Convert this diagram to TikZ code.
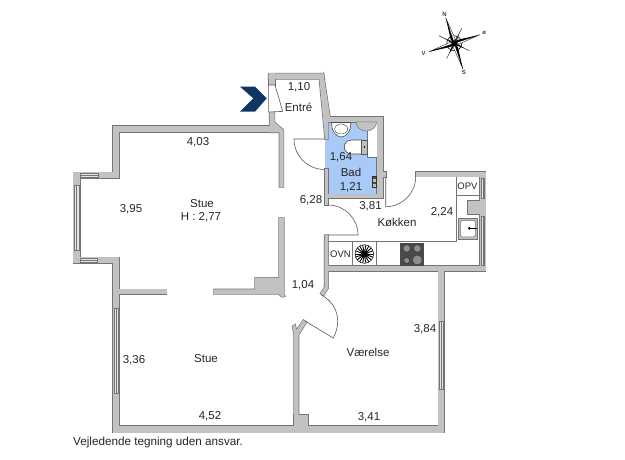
\documentclass[tikz,border=0pt]{standalone}
\usepackage{fontspec}
\setmainfont{Liberation Sans}
\definecolor{wallfill}{HTML}{C2C2C2}
\definecolor{walledge}{HTML}{747474}
\definecolor{badblue}{HTML}{A9C9F6}
\definecolor{navy}{HTML}{0F3560}
\definecolor{hobdark}{HTML}{4A4A4A}
\tikzset{
  x=1pt,y=-1pt,
  lbl/.style={font=\fontsize{11.5}{13}\selectfont,text=black!85,inner sep=0pt},
  smalllbl/.style={font=\fontsize{9.5}{11}\selectfont,text=black!85,inner sep=0pt},
  compasslbl/.style={font=\fontsize{6}{7}\selectfont\bfseries,text=black!75,inner sep=0pt},
  thinline/.style={draw=walledge,line width=0.7pt},
  doorline/.style={draw=black!65,line width=0.6pt},
  windowbox/.style={draw=walledge,line width=0.5pt,fill=white!55!wallfill},
  fixture/.style={draw=black!70,line width=0.6pt,fill=white},
}
\newcommand{\wallset}[1]{%
  \path[#1] (268.5,73.5)--(323.5,73.5)--(324.5,79)--(268.5,79)--cycle;
  \path[#1] (319.3,79)--(323.5,73.5)--(330,116.7)--(330,122)--(328,122)--(328,139)--(325,139)--cycle;
  \path[#1] (325,116.7)--(383,116.7)--(383,122)--(325,122)--cycle;
  \path[#1] (376.7,116.7)--(383,116.7)--(383,198.5)--(376.7,198.5)--cycle;
  \path[#1] (383,172)--(386,172)--(386,177)--(383,177)--cycle;
  \path[#1] (324.5,194.3)--(383,194.3)--(383,198.5)--(324.5,198.5)--cycle;
  \path[#1] (324.5,169)--(328.3,169)--(328.3,205)--(324.5,205)--cycle;
  \path[#1] (268.5,73.5)--(275,73.5)--(275,85)--(268.5,85)--cycle;
  \path[#1] (269.5,112)--(274.5,112)--(274.5,122)--(283.5,130)--(283.5,187)--(279.3,187)--(279.3,132.5)--(269.5,132.5)--cycle;
  \path[#1] (113,126)--(274.5,126)--(274.5,132.5)--(113,132.5)--cycle;
  \path[#1] (113,126)--(119.3,126)--(119.3,178.3)--(113,178.3)--cycle;
  \path[#1] (73.3,172.3)--(119.3,172.3)--(119.3,178.3)--(73.3,178.3)--cycle;
  \path[#1] (73.3,172.3)--(80,172.3)--(80,263.3)--(73.3,263.3)--cycle;
  \path[#1] (73.3,257.3)--(119.3,257.3)--(119.3,263.3)--(73.3,263.3)--cycle;
  \path[#1] (113,257.3)--(119.3,257.3)--(119.3,432.7)--(113,432.7)--cycle;
  \path[#1] (119,289.3)--(166.7,289.3)--(166.7,294)--(119,294)--cycle;
  \path[#1] (214,289.3)--(255,289.3)--(255,277.7)--(279,277.7)--(279,218)--(284,218)--(284,294)--(285,296)--(282,297)--(278.5,294)--(214,294)--cycle;
  \path[#1] (113,426)--(444.3,426)--(444.3,432.7)--(113,432.7)--cycle;
  \path[#1] (292.5,326.5)--(295,324.5)--(296.5,330)--(303.5,320)--(306.5,322)--(298.7,335)--(298.7,426)--(294,426)--(294,335)--cycle;
  \path[#1] (294,415)--(308.3,415)--(308.3,426)--(294,426)--cycle;
  \path[#1] (324.5,235)--(328.3,235)--(328.3,288)--(323.5,295.5)--(320.5,293.5)--(324.5,287)--cycle;
  \path[#1] (438.3,266)--(444.3,266)--(444.3,432.7)--(438.3,432.7)--cycle;
  \path[#1] (324.5,266)--(485.7,266)--(485.7,271)--(324.5,271)--cycle;
  \path[#1] (415.7,171.7)--(485.7,171.7)--(485.7,176.7)--(415.7,176.7)--cycle;
  \path[#1] (480,171.7)--(485.7,171.7)--(485.7,271)--(480,271)--cycle;
  \path[#1] (467.7,201)--(485.7,201)--(485.7,214)--(467.7,214)--cycle;
}
\begin{document}
\begin{tikzpicture}
\useasboundingbox (0,0) rectangle (625,460);
\fill[white] (0,0) rectangle (625,460);
% bathroom floor
\fill[badblue] (325,120)--(378,120)--(378,195)--(325,195)--cycle;
% walls: stroke first, fill over it, so the pieces merge
\wallset{draw=walledge,line width=1.3pt,line join=miter}
\wallset{fill=wallfill}
% bathroom fixtures
\fill[white] (367.7,122)--(376.7,122)--(376.7,157.7)--(367.7,157.7)--cycle;
\draw[thinline] (367.7,130)--(367.7,157.7)--(376.7,157.7);
\filldraw[draw=walledge,fill=wallfill,line width=0.5pt] (356,122) arc[start angle=180,end angle=0,x radius=10.3,y radius=9]--cycle;
\filldraw[fixture] (331.7,122.5) -- (350.7,122.5)
  .. controls (351.5,131) and (346,137) .. (341.2,137) .. controls (336.5,137) and (331,131) .. (331.7,122.5)--cycle;
\draw[draw=black!65,line width=0.5pt] (341.2,129) ellipse[x radius=6.5,y radius=5];
\filldraw[fixture] (361.7,140) -- (352,140) .. controls (347,140) and (344.3,143.5) .. (344.3,147) .. controls (344.3,150.5) and (347,154) .. (352,154) -- (361.7,154)--cycle;
\filldraw[draw=black!65,fill=black!25,line width=0.5pt] (361.7,140) rectangle (367.7,154);
\fill[black] (364.5,147) circle[radius=0.9];
\filldraw[draw=black!80,fill=black!25,line width=0.5pt] (372,176) rectangle (376,187);
\fill[black!70] (372.5,177) rectangle (375.5,179);
\fill[black!70] (372.5,182) rectangle (375.5,184);
% entry door
\fill[white] (268.5,85) rectangle (275,112);
\draw[doorline] (268.6,85)--(275,85)--(282.7,111.4)--(268.6,112)--cycle;
% interior doors
\draw[doorline] (325,139)--(294,139) arc[start angle=180,end angle=90,radius=30.5];
\draw[doorline] (328,235)--(358,235) arc[start angle=0,end angle=-90,radius=30];
\draw[doorline] (385.7,177)--(385.7,206.7) arc[start angle=90,end angle=0,radius=30];
\draw[doorline] (305,321)--(333.3,338) .. controls (340,326) and (341,306) .. (321.5,295);
% entrance arrow
\fill[navy] (240,86.7)--(255,86.7)--(266.7,98.3)--(255,111.7)--(240,111.7)--(253.3,98.3)--cycle;
% kitchen fittings
\draw[thinline] (328.3,241.7)--(456.7,241.7)--(456.7,176.7);
\draw[thinline] (456.7,195.7)--(480,195.7);
\draw[thinline] (352.3,241.7)--(352.3,266);
\draw[thinline] (376.7,241.7)--(376.7,266);
\fill[hobdark] (400,242.5) rectangle (424.3,266);
\foreach \cx/\cy/\r in {406.7/248.5/3.8,417.3/248.5/3.8,406.7/260.5/3,417.3/260/5}{
  \filldraw[draw=black!80,fill=black!45,line width=0.5pt] (\cx,\cy) circle[radius=\r];
}
\draw[black,line width=0.5pt] (364.3,254) circle[radius=9.3];
\foreach \a in {0,20,...,340}{\draw[black,line width=0.9pt] (364.3,254)--+(\a:9);}
\fill[black] (364.3,254) circle[radius=3.5];
\filldraw[draw=walledge,fill=black!25,line width=0.6pt] (458.3,218.3) rectangle (477.7,239);
\filldraw[draw=walledge,fill=white,line width=0.5pt,rounded corners=1.5pt] (460.5,220.5) rectangle (475.5,236.8);
\fill[black] (469.3,228.3) circle[radius=1.5];
\draw[black,line width=0.7pt] (469.3,228.3)--(477,228.3);
% windows
\foreach \xa/\ya/\xb/\yb in {481/178/484.7/198,481/216.7/484.7/265,
  74.3/185/79/250,439.3/321.7/443.3/389.3,114/308.3/118.3/393}{
  \filldraw[windowbox] (\xa,\ya) rectangle (\xb,\yb);
  \draw[walledge,line width=0.4pt] ({(\xa+\xb)/2},\ya)--({(\xa+\xb)/2},\yb);
}
\foreach \xa/\ya/\xb/\yb in {80/173.3/98.3/177.3,80/258.3/97/262.3}{
  \filldraw[windowbox] (\xa,\ya) rectangle (\xb,\yb);
  \draw[walledge,line width=0.4pt] (\xa,{(\ya+\yb)/2})--(\xb,{(\ya+\yb)/2});
}
% compass
\begin{scope}[shift={(454.3,43.3)},rotate=18.6]
  \draw[black,line width=0.6pt] (0,0) circle[radius=7.5];
  \foreach \a in {45,135,225,315}{
    \draw[black!75,line width=0.6pt] (0,0)--(\a:17);
    \begin{scope}[rotate=\a]\fill[black] (0,0)--(3,1)--(11,0)--(3,-1)--cycle;\end{scope}
  }
  \foreach \a in {0,90,180,270}{
    \begin{scope}[rotate=\a]
      \filldraw[draw=black,fill=white,line width=0.3pt] (0,0)--(4.5,2.2)--(27,0)--cycle;
      \fill[black] (0,0)--(4.5,-2.2)--(27,0)--cycle;
    \end{scope}
  }
  \fill[black] (0,0) circle[radius=3];
\end{scope}
\node[compasslbl] (nN) at (444.5,14) {N};
\node[compasslbl] (nS) at (463.8,72.5) {S};
\node[compasslbl] (nO) at (484.3,33) {ø};
\node[compasslbl] (nV) at (423.5,53) {V};
% labels
\node[lbl] (t1) at (299,87.6) {1,10};
\node[lbl] (t2) at (298.5,107) {Entré};
\node[lbl] (t3) at (198,142.6) {4,03};
\node[lbl] (t4) at (341,157.6) {1,64};
\node[lbl] (t5) at (351,172) {Bad};
\node[lbl] (t6) at (351,187.6) {1,21};
\node[lbl] (t7) at (202,204) {Stue};
\node[lbl] (t8) at (201,217.6) {H : 2,77};
\node[lbl] (t9) at (131,209.6) {3,95};
\node[lbl] (t10) at (311,200.6) {6,28};
\node[lbl] (t11) at (370.5,206.6) {3,81};
\node[lbl] (t12) at (442,212) {2,24};
\node[lbl] (t13) at (397,222) {Køkken};
\node[smalllbl] (t14) at (467.5,186) {OPV};
\node[smalllbl] (t15) at (340.5,254) {OVN};
\node[lbl] (t16) at (303,285.6) {1,04};
\node[lbl] (t17) at (425,329.6) {3,84};
\node[lbl] (t18) at (134,360.6) {3,36};
\node[lbl] (t19) at (206,359) {Stue};
\node[lbl] (t20) at (368,352) {Værelse};
\node[lbl] (t21) at (210,416.6) {4,52};
\node[lbl] (t22) at (369,417.6) {3,41};
\node[lbl,anchor=west,font=\fontsize{11.7}{13}\selectfont] (t23) at (73,442) {Vejledende tegning uden ansvar.};
\end{tikzpicture}
\end{document}
